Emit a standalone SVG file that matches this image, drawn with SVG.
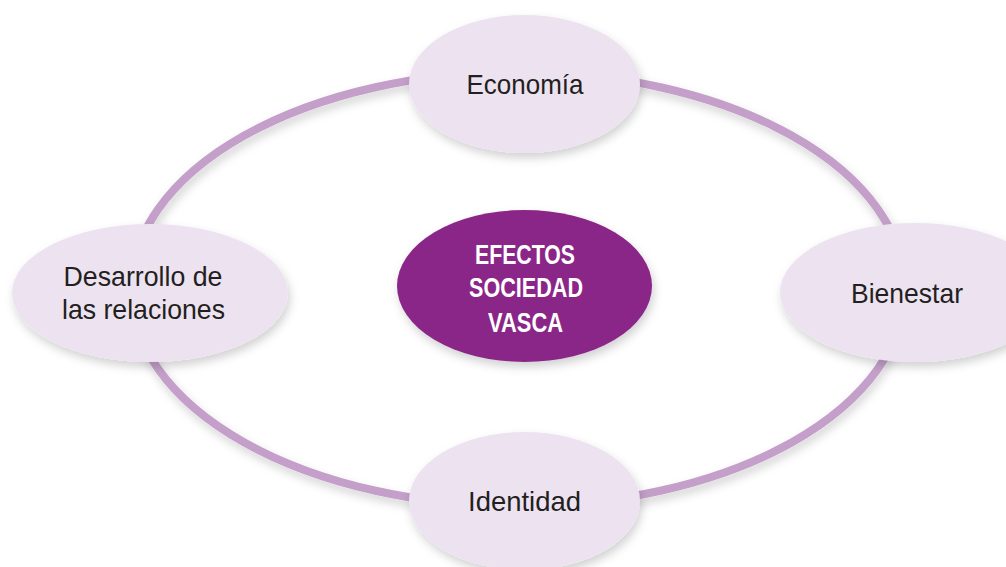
<svg xmlns="http://www.w3.org/2000/svg" width="1006" height="567" viewBox="0 0 1006 567">
  <defs>
    <filter id="sh" x="-20%" y="-20%" width="140%" height="150%">
      <feDropShadow dx="2" dy="5" stdDeviation="5" flood-color="#000" flood-opacity="0.18"/>
    </filter>
    <style>
      .node { fill: #ede3f0; filter: url(#sh); }
      .core { fill: #8b2889; filter: url(#sh); }
      .lbl { font-family: "Liberation Sans", Arial, sans-serif; font-size: 28px; fill: #231f20; text-anchor: middle; }
      .clbl { font-family: "Liberation Sans", Arial, sans-serif; font-size: 27px; font-weight: bold; fill: #ffffff; text-anchor: middle; }
      .ring { fill: none; stroke: #c49fc9; stroke-width: 8; filter: url(#sh); }
    </style>
  </defs>
  <rect width="1006" height="567" fill="#ffffff"/>
  <g id="connectors">
    <ellipse class="ring" cx="518" cy="289" rx="387" ry="217"/>
  </g>
  <g id="economia">
    <ellipse class="node" cx="524.5" cy="84" rx="115.5" ry="69"/>
    <text class="lbl" x="525" y="94" textLength="117" lengthAdjust="spacingAndGlyphs">Economía</text>
  </g>
  <g id="desarrollo">
    <ellipse class="node" cx="150" cy="293" rx="138" ry="69"/>
    <text class="lbl" x="143" y="286" textLength="159" lengthAdjust="spacingAndGlyphs">Desarrollo de</text>
    <text class="lbl" x="143.5" y="319" textLength="163" lengthAdjust="spacingAndGlyphs">las relaciones</text>
  </g>
  <g id="bienestar">
    <ellipse class="node" cx="915" cy="292.5" rx="135" ry="69.5"/>
    <text class="lbl" x="907" y="303" textLength="112" lengthAdjust="spacingAndGlyphs">Bienestar</text>
  </g>
  <g id="identidad">
    <ellipse class="node" cx="524.5" cy="501" rx="115.5" ry="69"/>
    <text class="lbl" x="524.5" y="511" textLength="113" lengthAdjust="spacingAndGlyphs">Identidad</text>
  </g>
  <g id="efectos">
    <ellipse class="core" cx="524.5" cy="286" rx="127.5" ry="76"/>
    <text class="clbl" x="525" y="264" textLength="100" lengthAdjust="spacingAndGlyphs">EFECTOS</text>
    <text class="clbl" x="526" y="297" textLength="114" lengthAdjust="spacingAndGlyphs">SOCIEDAD</text>
    <text class="clbl" x="525.5" y="332" textLength="75" lengthAdjust="spacingAndGlyphs">VASCA</text>
  </g>
</svg>
